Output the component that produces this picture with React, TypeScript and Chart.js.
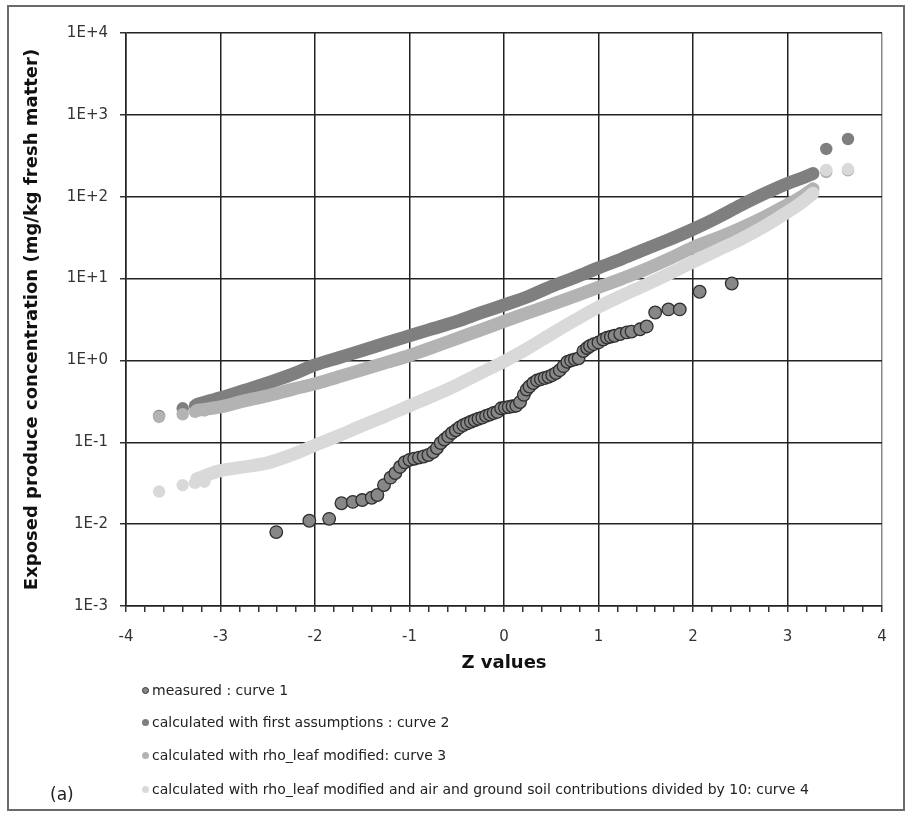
import React, { useEffect, useRef } from 'react';
import { Chart, registerables } from 'chart.js';

Chart.register(...registerables);

// ---- data ----
const zMeasured = [
  -2.41, -2.06, -1.85, -1.72, -1.6, -1.5, -1.4, -1.34, -1.27, -1.2, -1.15, -1.1, -1.05, -1.0,
  -0.95, -0.9, -0.85, -0.8, -0.75, -0.71, -0.67, -0.63, -0.59, -0.55, -0.51, -0.47, -0.43,
  -0.39, -0.35, -0.31, -0.27, -0.23, -0.19, -0.15, -0.11, -0.07, -0.03, 0.01, 0.05, 0.09,
  0.13, 0.17, 0.21, 0.24, 0.27, 0.31, 0.35, 0.39, 0.43, 0.47, 0.51, 0.55, 0.59, 0.63, 0.67,
  0.71, 0.75, 0.79, 0.84, 0.88, 0.91, 0.95, 1.0, 1.05, 1.09, 1.13, 1.17, 1.23, 1.3, 1.35,
  1.44, 1.51, 1.6, 1.74, 1.86, 2.07, 2.41,
];
const measured = [
  0.008, 0.011, 0.0116, 0.018, 0.0187, 0.0197, 0.021, 0.0227, 0.03, 0.037, 0.042, 0.05, 0.057,
  0.061, 0.063, 0.065, 0.067, 0.07, 0.076, 0.085, 0.098, 0.108, 0.118, 0.13, 0.14, 0.152,
  0.162, 0.17, 0.178, 0.186, 0.194, 0.2, 0.21, 0.218, 0.228, 0.235, 0.26, 0.265, 0.27, 0.275,
  0.28, 0.31, 0.38, 0.44, 0.48, 0.53, 0.57, 0.59, 0.61, 0.63, 0.66, 0.7, 0.76, 0.85, 0.96,
  1.0, 1.03, 1.06, 1.3, 1.42, 1.5, 1.58, 1.66, 1.8, 1.9, 1.95, 2.0, 2.1, 2.2, 2.25, 2.4, 2.6,
  3.85, 4.2, 4.2, 6.9, 8.7,
];

const zBand = [
  -3.25, -3.0, -2.75, -2.5, -2.25, -2.0, -1.75, -1.5, -1.25, -1.0, -0.75, -0.5, -0.25, 0, 0.25,
  0.5, 0.75, 1.0, 1.25, 1.5, 1.75, 2.0, 2.25, 2.5, 2.75, 3.0, 3.15, 3.27,
];
const curve2Band = [
  0.29, 0.35, 0.43, 0.53, 0.67, 0.88, 1.08, 1.32, 1.63, 2.0, 2.45, 3.0, 3.8, 4.75, 6.0, 8.0,
  10.3, 13.5, 17.5, 23, 30, 40, 55, 78, 108, 145, 168, 192,
];
const curve3Band = [
  0.245, 0.27, 0.32, 0.37, 0.44, 0.52, 0.63, 0.77, 0.94, 1.15, 1.45, 1.85, 2.35, 3.0, 3.8, 4.8,
  6.1, 7.8, 10, 13, 17.5, 24, 31, 41, 56, 80, 100, 125,
];
const curve4Band = [
  0.036, 0.045, 0.05, 0.056, 0.07, 0.092, 0.12, 0.16, 0.21, 0.28, 0.37, 0.5, 0.7, 0.97, 1.4,
  2.1, 3.1, 4.5, 6.2, 8.4, 11.5, 16, 22, 30, 43, 65, 85, 110,
];

const zTail = [-3.65, -3.4, -3.27, -3.17, 3.41, 3.64];
const curve2Tail = [0.21, 0.26, 0.28, 0.3, 383, 507];
const curve3Tail = [0.204, 0.22, 0.235, 0.245, 200, 210];
const curve4Tail = [0.025, 0.03, 0.032, 0.033, 212, 218];

const yTickValues = [1e-3, 1e-2, 1e-1, 1, 10, 100, 1000, 10000];
const yTickLabels = ['1E-3', '1E-2', '1E-1', '1E+0', '1E+1', '1E+2', '1E+3', '1E+4'];
const xTickLabels = ['-4', '-3', '-2', '-1', '0', '1', '2', '3', '4'];

const legendLabels = [
  'measured : curve 1',
  'calculated with first assumptions : curve 2',
  'calculated with rho_leaf modified: curve 3',
  'calculated with rho_leaf modified and air and ground soil contributions divided by 10: curve 4',
];
const colors = ['#878787', '#7f7f7f', '#b3b3b3', '#d9d9d9'];

const pts = (zs: number[], vs: number[]) => zs.map((z, i) => ({ x: z, y: vs[i] }));

export default function App() {
  const ref = useRef<HTMLCanvasElement>(null);

  useEffect(() => {
    if (!ref.current) return;
    const band = (vals: number[], color: string, order: number) => ({
      data: pts(zBand, vals),
      showLine: true,
      borderColor: color,
      backgroundColor: color,
      borderWidth: 13,
      pointRadius: 0,
      fill: false,
      cubicInterpolationMode: 'monotone',
      borderCapStyle: 'round',
      borderJoinStyle: 'round',
      order,
    });
    const tail = (vals: number[], color: string, order: number) => ({
      data: pts(zTail, vals),
      showLine: false,
      pointRadius: 6.2,
      backgroundColor: color,
      borderColor: color,
      borderWidth: 0,
      order,
    });
    const xTicks = Array.from({ length: 41 }, (_, i) => Math.round((-4 + i * 0.2) * 10) / 10);
    const isInt = (v: number) => Math.abs(v - Math.round(v)) < 1e-6;

    const chart = new Chart(ref.current, {
      type: 'scatter',
      data: {
        datasets: [
          {
            label: legendLabels[0],
            data: pts(zMeasured, measured),
            showLine: false,
            pointRadius: 6.3,
            backgroundColor: colors[0],
            borderColor: '#2e2e2e',
            borderWidth: 1.3,
            order: 0,
          },
          band(curve4Band, colors[3], 1),
          tail(curve4Tail, colors[3], 1),
          band(curve3Band, colors[2], 2),
          tail(curve3Tail, colors[2], 2),
          band(curve2Band, colors[1], 3),
          tail(curve2Tail, colors[1], 3),
        ] as any,
      },
      options: {
        responsive: false,
        animation: false,
        devicePixelRatio: 1,
        layout: { padding: { top: 33, right: 31, bottom: 138, left: 0 } },
        plugins: { legend: { display: false }, tooltip: { enabled: false } },
        scales: {
          x: {
            type: 'linear',
            min: -4,
            max: 4,
            afterBuildTicks: (s: any) => {
              s.ticks = xTicks.map((v) => ({ value: v }));
            },
            afterFit: (s: any) => {
              s.height = 74;
            },
            ticks: {
              autoSkip: false,
              maxRotation: 0,
              padding: 16,
              color: '#333',
              font: { family: 'DejaVu Sans', size: 15 },
              callback: (v: any) => (isInt(v) ? xTickLabels[Math.round(v) + 4] : ''),
            },
            grid: {
              color: (ctx: any) => {
                const v = ctx.tick ? ctx.tick.value : 0;
                if (!isInt(v)) return 'rgba(0,0,0,0)';
                return Math.round(v) === 4 ? '#8a8a8a' : '#222';
              },
              lineWidth: 1.5,
              tickLength: 6,
              tickColor: '#333',
            },
            border: { color: '#222', width: 1.5 },
            title: {
              display: true,
              text: 'Z values',
              color: '#111',
              font: { family: 'DejaVu Sans', size: 18, weight: 'bold' },
              padding: { top: 0, bottom: 6 },
            },
          },
          y: {
            type: 'logarithmic',
            min: 1e-3,
            max: 1e4,
            afterBuildTicks: (s: any) => {
              s.ticks = yTickValues.map((v) => ({ value: v }));
            },
            afterFit: (s: any) => {
              s.width = 126;
            },
            ticks: {
              padding: 12,
              color: '#333',
              font: { family: 'DejaVu Sans', size: 15 },
              callback: (v: any) => yTickLabels[Math.round(Math.log10(v)) + 3],
            },
            grid: { color: '#222', lineWidth: 1.5, tickLength: 6, tickColor: '#333' },
            border: { color: '#222', width: 1.5 },
            title: {
              display: true,
              text: 'Exposed produce concentration (mg/kg fresh matter)',
              color: '#111',
              font: { family: 'DejaVu Sans', size: 18, weight: 'bold' },
              padding: { top: 22, bottom: 0 },
            },
          },
        },
      } as any,
    });
    return () => chart.destroy();
  }, []);

  const rowY = [690, 722, 755, 789];

  return (
    <div style={{ position: 'fixed', left: 0, top: 0, width: 913, height: 818, background: '#fff' }}>
      <canvas ref={ref} width={913} height={818} style={{ position: 'absolute', left: 0, top: 0, width: 913, height: 818 }} />
      <div
        style={{
          position: 'absolute',
          left: 7,
          top: 5,
          width: 898,
          height: 806,
          border: '2px solid #6a6a6a',
          boxSizing: 'border-box',
          pointerEvents: 'none',
        }}
      />
      {legendLabels.map((t, i) => (
        <div
          key={i}
          style={{
            position: 'absolute',
            left: 142,
            top: rowY[i] - 10,
            height: 20,
            display: 'flex',
            alignItems: 'center',
            whiteSpace: 'nowrap',
            fontFamily: 'DejaVu Sans',
            fontSize: 14,
            color: '#222',
          }}
        >
          <span
            style={{
              display: 'inline-block',
              width: 7,
              height: 7,
              borderRadius: '50%',
              background: colors[i],
              border: i === 0 ? '1px solid #333' : 'none',
              boxSizing: 'border-box',
              marginRight: 3,
            }}
          />
          <span>{t}</span>
        </div>
      ))}
      <div
        style={{
          position: 'absolute',
          left: 50,
          top: 784,
          fontFamily: 'DejaVu Sans',
          fontSize: 17,
          color: '#222',
        }}
      >
        (a)
      </div>
    </div>
  );
}
